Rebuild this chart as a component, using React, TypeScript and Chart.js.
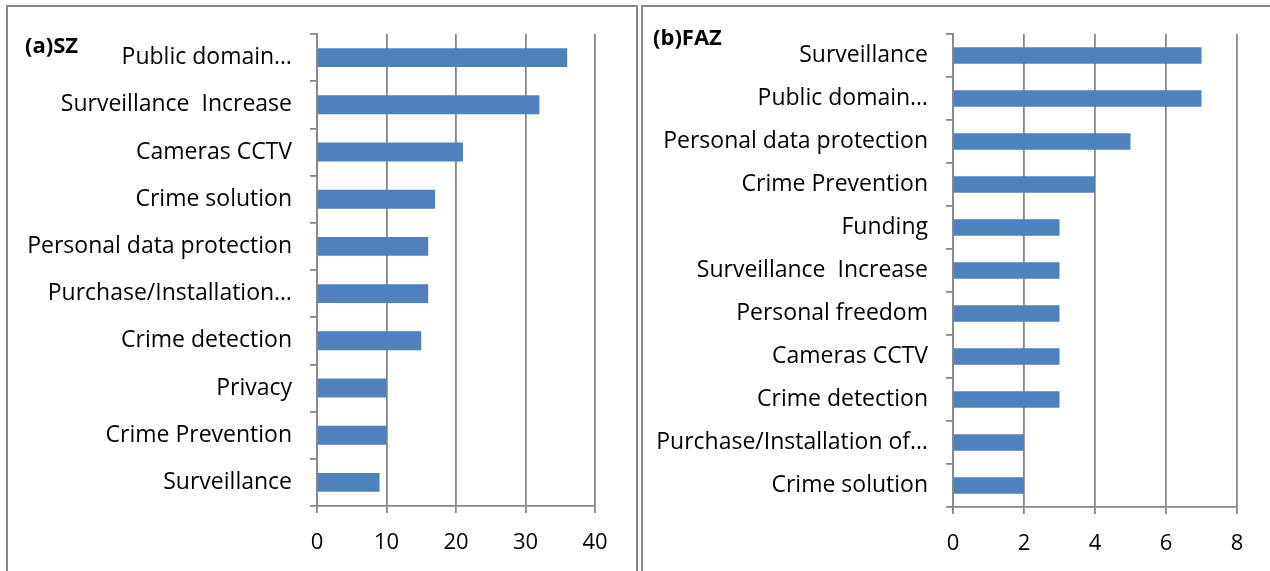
import React, { useEffect, useRef } from "react";
import { Chart, registerables } from "chart.js";

Chart.register(...registerables);

const szCategories = [
  "Public domain…",
  "Surveillance  Increase",
  "Cameras CCTV",
  "Crime solution",
  "Personal data protection",
  "Purchase/Installation…",
  "Crime detection",
  "Privacy",
  "Crime Prevention",
  "Surveillance",
];
const szValues = [36, 32, 21, 17, 16, 16, 15, 10, 10, 9];
const szTicks = [0, 10, 20, 30, 40];

const fazCategories = [
  "Surveillance",
  "Public domain…",
  "Personal data protection",
  "Crime Prevention",
  "Funding",
  "Surveillance  Increase",
  "Personal freedom",
  "Cameras CCTV",
  "Crime detection",
  "Purchase/Installation of…",
  "Crime solution",
];
const fazValues = [7, 7, 5, 4, 3, 3, 3, 3, 3, 2, 2];
const fazTicks = [0, 2, 4, 6, 8];

const FONT = "'Open Sans', Lato, sans-serif";
const GRID = "#888888";
const BAR = "#4F81BD";

type PanelProps = {
  labels: string[];
  values: number[];
  ticks: number[];
  yWidth: number;
  padRight: number;
  padTop: number;
  xHeight: number;
  barPct: number;
};

function Panel({ labels, values, ticks, yWidth, padRight, padTop, xHeight, barPct }: PanelProps) {
  const ref = useRef<HTMLCanvasElement | null>(null);
  useEffect(() => {
    if (!ref.current) return;
    const max = ticks[ticks.length - 1];
    const step = ticks[1] - ticks[0];
    const chart = new Chart(ref.current, {
      type: "bar",
      data: {
        labels,
        datasets: [
          {
            data: values,
            backgroundColor: BAR,
            borderWidth: 0,
            barPercentage: barPct,
            categoryPercentage: 1,
          },
        ],
      },
      options: {
        indexAxis: "y",
        animation: false,
        responsive: false,
        maintainAspectRatio: false,
        layout: { padding: { left: 0, right: padRight, top: padTop, bottom: 0 } },
        plugins: { legend: { display: false }, tooltip: { enabled: false }, title: { display: false } },
        scales: {
          x: {
            min: 0,
            max,
            ticks: {
              stepSize: step,
              color: "#000",
              font: { family: FONT, size: 22 },
              padding: 17,
              maxRotation: 0,
            },
            grid: { color: GRID, lineWidth: 1.8, tickLength: 7, drawOnChartArea: true },
            border: { color: GRID, width: 1.8 },
            afterFit: (s: any) => {
              s.height = xHeight;
            },
          },
          y: {
            ticks: {
              color: "#000",
              font: { family: FONT, size: 23 },
              padding: 18,
              autoSkip: false,
            },
            grid: { color: GRID, lineWidth: 1.8, tickLength: 7, drawOnChartArea: false, offset: true },
            border: { color: GRID, width: 1.8 },
            afterFit: (s: any) => {
              s.width = yWidth;
            },
          },
        },
      },
    });
    return () => chart.destroy();
  }, []);
  return <canvas ref={ref} width={629} height={571} style={{ display: "block", width: 629, height: 571 }} />;
}

export default function App() {
  const line = (style: React.CSSProperties) => (
    <div style={{ position: "absolute", background: GRID, ...style }} />
  );
  return (
    <div style={{ position: "fixed", left: 0, top: 0, width: 1270, height: 571, background: "#fff", overflow: "hidden" }}>
      <div style={{ position: "absolute", left: 0, top: 0 }}>
        <Panel labels={szCategories} values={szValues} ticks={szTicks} yWidth={317} padRight={34} padTop={34} xHeight={65} barPct={0.4} />
      </div>
      <div style={{ position: "absolute", left: 641, top: 0 }}>
        <Panel labels={fazCategories} values={fazValues} ticks={fazTicks} yWidth={312} padRight={33} padTop={34} xHeight={64} barPct={0.38} />
      </div>
      {line({ left: 6, top: 5, width: 632, height: 2 })}
      {line({ left: 6, top: 5, width: 2, height: 566 })}
      {line({ left: 636, top: 5, width: 2, height: 566 })}
      {line({ left: 641, top: 5, width: 629, height: 2 })}
      {line({ left: 641, top: 5, width: 2, height: 566 })}
      <div style={{ position: "absolute", left: 25, top: 29, font: `bold 22px ${FONT}`, color: "#000", lineHeight: "30px" }}>(a)SZ</div>
      <div style={{ position: "absolute", left: 653, top: 21, font: `bold 22px ${FONT}`, color: "#000", lineHeight: "30px" }}>(b)FAZ</div>
    </div>
  );
}
